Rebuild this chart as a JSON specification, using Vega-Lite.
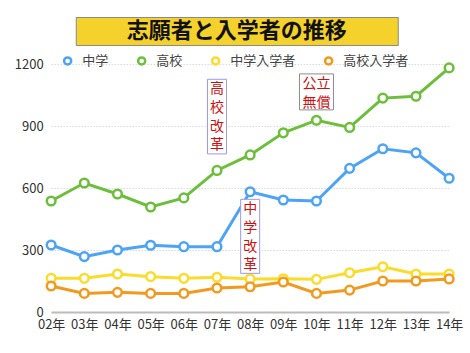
{
  "$schema": "https://vega.github.io/schema/vega-lite/v6.json",
  "padding": {"left": 14, "top": 16, "right": 5, "bottom": 5},
  "background": "white",
  "config": {
    "font": "Noto Sans CJK JP",
    "view": {"stroke": null},
    "concat": {"spacing": 8}
  },
  "datasets": {
    "title": [{"title": "志願者と入学者の推移"}],
    "series": [
      {"year": "02年", "series": "中学", "value": 324},
      {"year": "03年", "series": "中学", "value": 268},
      {"year": "04年", "series": "中学", "value": 300},
      {"year": "05年", "series": "中学", "value": 323},
      {"year": "06年", "series": "中学", "value": 316},
      {"year": "07年", "series": "中学", "value": 316},
      {"year": "08年", "series": "中学", "value": 582},
      {"year": "09年", "series": "中学", "value": 542},
      {"year": "10年", "series": "中学", "value": 537},
      {"year": "11年", "series": "中学", "value": 695},
      {"year": "12年", "series": "中学", "value": 790},
      {"year": "13年", "series": "中学", "value": 770},
      {"year": "14年", "series": "中学", "value": 647},
      {"year": "02年", "series": "高校", "value": 537},
      {"year": "03年", "series": "高校", "value": 624},
      {"year": "04年", "series": "高校", "value": 571},
      {"year": "05年", "series": "高校", "value": 508},
      {"year": "06年", "series": "高校", "value": 552},
      {"year": "07年", "series": "高校", "value": 685},
      {"year": "08年", "series": "高校", "value": 760},
      {"year": "09年", "series": "高校", "value": 867},
      {"year": "10年", "series": "高校", "value": 928},
      {"year": "11年", "series": "高校", "value": 893},
      {"year": "12年", "series": "高校", "value": 1035},
      {"year": "13年", "series": "高校", "value": 1044},
      {"year": "14年", "series": "高校", "value": 1181},
      {"year": "02年", "series": "中学入学者", "value": 163},
      {"year": "03年", "series": "中学入学者", "value": 163},
      {"year": "04年", "series": "中学入学者", "value": 184},
      {"year": "05年", "series": "中学入学者", "value": 171},
      {"year": "06年", "series": "中学入学者", "value": 163},
      {"year": "07年", "series": "中学入学者", "value": 168},
      {"year": "08年", "series": "中学入学者", "value": 160},
      {"year": "09年", "series": "中学入学者", "value": 161},
      {"year": "10年", "series": "中学入学者", "value": 158},
      {"year": "11年", "series": "中学入学者", "value": 190},
      {"year": "12年", "series": "中学入学者", "value": 219},
      {"year": "13年", "series": "中学入学者", "value": 184},
      {"year": "14年", "series": "中学入学者", "value": 184},
      {"year": "02年", "series": "高校入学者", "value": 126},
      {"year": "03年", "series": "高校入学者", "value": 90},
      {"year": "04年", "series": "高校入学者", "value": 95},
      {"year": "05年", "series": "高校入学者", "value": 90},
      {"year": "06年", "series": "高校入学者", "value": 90},
      {"year": "07年", "series": "高校入学者", "value": 116},
      {"year": "08年", "series": "高校入学者", "value": 122},
      {"year": "09年", "series": "高校入学者", "value": 145},
      {"year": "10年", "series": "高校入学者", "value": 90},
      {"year": "11年", "series": "高校入学者", "value": 106},
      {"year": "12年", "series": "高校入学者", "value": 150},
      {"year": "13年", "series": "高校入学者", "value": 150},
      {"year": "14年", "series": "高校入学者", "value": 160}
    ],
    "notes": [
      {"year": "07年", "label": "高\n校\n改\n革", "kind": "改革", "top": 1126, "bottom": 765},
      {"year": "08年", "label": "中\n学\n改\n革", "kind": "改革", "top": 545, "bottom": 187},
      {"year": "10年", "label": "公立\n無償", "kind": "無償", "top": 1152, "bottom": 978}
    ]
  },
  "center": true,
  "resolve": {"legend": {"color": "independent"}},
  "vconcat": [
    {
      "width": 322,
      "height": 28,
      "view": {"fill": "#F5D22B", "stroke": "#8a8a8a", "strokeWidth": 1},
      "data": {"name": "title"},
      "mark": {"type": "text", "fontSize": 22, "fontWeight": "bold", "color": "#111111", "baseline": "middle", "align": "center"},
      "encoding": {
        "text": {"field": "title"},
        "y": {"datum": 0, "type": "quantitative", "scale": {"domain": [-1, 1]}, "axis": {"orient": "right", "labels": false, "ticks": false, "domain": false, "grid": false, "title": null, "minExtent": 40, "maxExtent": 40}}
      }
    },
    {
      "width": 398,
      "height": 248,
      "encoding": {
        "x": {
          "field": "year", "type": "ordinal",
          "scale": {"type": "point", "padding": 0},
          "axis": {"title": null, "labelAngle": 0, "labelFontSize": 13, "labelColor": "#333333", "ticks": false, "labelPadding": 6, "domainColor": "#bbbbbb", "domainWidth": 2, "grid": false}
        }
      },
      "layer": [
        {
          "data": {"name": "series"},
          "mark": {"type": "line", "strokeWidth": 3, "point": {"filled": false, "fill": "white", "size": 75, "strokeWidth": 2.5}},
          "encoding": {
            "y": {
              "field": "value", "type": "quantitative",
              "scale": {"domain": [0, 1200], "nice": false},
              "axis": {"title": null, "values": [0, 300, 600, 900, 1200], "format": "d", "domain": false, "ticks": false, "labelPadding": 8, "labelFontSize": 13, "labelColor": "#333333", "gridColor": "#c8c8c8", "gridDash": [1, 2], "gridWidth": 1}
            },
            "color": {
              "field": "series", "type": "nominal",
              "scale": {"domain": ["中学", "高校", "中学入学者", "高校入学者"], "range": ["#4DA3F5", "#6DBE3B", "#FADC2C", "#F29A1E"]},
              "legend": {"title": null, "orient": "none", "direction": "horizontal", "legendX": 10, "legendY": -10, "symbolType": "circle", "symbolSize": 50, "symbolStrokeWidth": 2.5, "symbolFillColor": "white", "labelFontSize": 13, "labelColor": "#444444", "labelOffset": 8, "columnPadding": 23}
            }
          }
        },
        {
          "data": {"name": "notes"},
          "transform": [{"filter": "datum.kind === '改革'"}],
          "mark": {"type": "bar", "width": 19, "fill": "white", "stroke": "#9a9af0", "strokeWidth": 1},
          "encoding": {
            "y": {"field": "top", "type": "quantitative"},
            "y2": {"field": "bottom"}
          }
        },
        {
          "data": {"name": "notes"},
          "transform": [{"filter": "datum.kind === '無償'"}],
          "mark": {"type": "bar", "width": 34, "fill": "white", "stroke": "#8c8c8c", "strokeWidth": 1},
          "encoding": {
            "y": {"field": "top", "type": "quantitative"},
            "y2": {"field": "bottom"}
          }
        },
        {
          "data": {"name": "notes"},
          "mark": {"type": "text", "lineBreak": "\n", "fontSize": 14, "lineHeight": 18.7, "color": "#CC1111", "baseline": "top", "align": "center", "dy": 3},
          "encoding": {
            "y": {"field": "top", "type": "quantitative"},
            "text": {"field": "label"}
          }
        }
      ]
    }
  ]
}
